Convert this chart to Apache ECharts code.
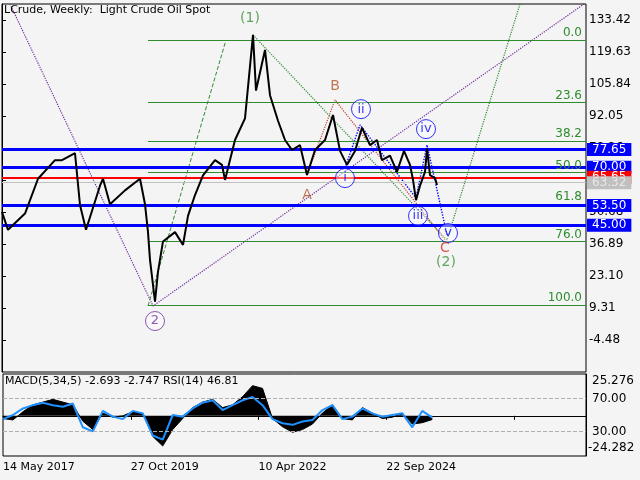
<!DOCTYPE html>
<html><head><meta charset="utf-8">
<script src="https://cdn.jsdelivr.net/npm/echarts@6/dist/echarts.min.js"></script>
<style>html,body{margin:0;padding:0;background:#f4f4f4}#c{width:640px;height:480px}</style>
</head><body><div id="c"></div>
<script>
// weeks since 14 May 2017
const priceWeeks = [0,6,23,36,53,60,73,78,84,98,101,108,123,138,143,146,148,153,156,161,173,181,186,193,201,213,220,223,233,243,251,254,263,268,276,283,290,298,305,313,323,331,338,345,353,360,368,375,380,388,395,402,408,411,414,418,423,425,428,433,435];
const priceValues = [50.7,43,50,65,73,73,76,53.7,43,62,65,54,60,65,54,42,30,12,25,38,42,36.5,49,58,66.5,73,71,64.5,81.7,91,127,103,120.5,101,90,81.7,77.4,79.5,66.6,77.4,81.7,92.5,77,71,77,87,79.5,81.7,73,75,68,77,71,64.5,55.8,62,68,78,66.6,65.3,62.3];
const oscWeeks = [0,10,20,30,40,50,60,70,80,90,100,110,120,130,140,150,160,170,180,190,200,210,220,230,240,250,260,270,280,290,300,310,320,330,340,350,360,370,380,390,400,410,420,430];
const macdValues = [-2,-3,3,8,10,12,10,8,-4,-10,2,-1,0,3,2,-15,-22,-10,-2,6,10,12,6,8,14,22,20,-2,-8,-12,-10,-6,2,8,-2,-3,6,2,-2,-1,2,-6,-5,-2.7];
const rsiValues = [45,50,58,62,65,62,60,64,35,30,55,48,45,55,52,25,20,50,48,58,65,68,56,62,68,72,62,45,40,38,42,44,56,62,45,48,58,52,48,50,52,35,55,46.8];
const levelLines = [{v:77.65,c:'#0000ff',w:3,t:'77.65'},{v:70.00,c:'#0000ff',w:3,t:'70.00'},{v:65.65,c:'#ff0000',w:2,t:'65.65'},{v:63.32,c:'#c0c0c0',w:1,t:'63.32'},{v:53.50,c:'#0000ff',w:3,t:'53.50'},{v:45.00,c:'#0000ff',w:3,t:'45.00'}];
const fibLevels = [{r:'0.0',v:124.8},{r:'23.6',v:97.85},{r:'38.2',v:81.2},{r:'50.0',v:67.7},{r:'61.8',v:54.2},{r:'76.0',v:38.0},{r:'100.0',v:10.6}];
const tickLabels = {0:'14 May 2017',128:'27 Oct 2019',256:'10 Apr 2022',384:'22 Sep 2024'};
const purple1 = [[8,140.3],[151,10.2],[582,140.3]];
const greenDash = [[146,10.2],[224,124.8]];
const greenDot = [[251,127],[445,38.6],[518,140.3]];
const brownDot = [[305,66.6],[333,99],[443,38.6]];
const blueDot = [[343,69.6],[358,88.2],[414,56.7],[425,79.6],[445,40.8]];
const waveText = [[248,134.3,'(1)','#3a8f3a'],[333,105,'B','#b5532a'],[305,58,'A','#b5532a'],[443,35.2,'C','#d03020'],[444,29.1,'(2)','#3a8f3a']];
const waveCircle = [[359,95,'ii','#0000ff'],[343,65.3,'i','#0000ff'],[416,49,'iii','#0000ff'],[424,86.4,'iv','#0000ff'],[446,41.6,'v','#0000ff'],[153,3.7,'2','#7030a0']];

const F = 'DejaVu Sans';
const ch = echarts.init(document.getElementById('c'));
function lineS(data,color,type,w){return {type:'line',xAxisIndex:0,yAxisIndex:0,data:data,symbol:'none',silent:true,clip:true,lineStyle:{color:color,type:type,width:w||1},z:3};}
const series = [
  {type:'line',xAxisIndex:0,yAxisIndex:0,data:priceWeeks.map((w,i)=>[w,priceValues[i]]),symbol:'none',lineStyle:{color:'#000',width:2},z:6,
   markLine:{symbol:'none',silent:true,animation:false,data:
     fibLevels.map(f=>[{coord:[146,f.v],lineStyle:{color:'#2e8b2e',width:1,type:'solid'},label:{show:true,position:'insideEndTop',formatter:f.r,color:'#2e8b2e',fontFamily:F,fontSize:12,distance:[4,1]}},{coord:[584,f.v]}])
     .concat(levelLines.map(l=>({yAxis:l.v,lineStyle:{color:l.c,width:l.w,type:'solid'},label:{show:true,position:'end',formatter:l.t,color:l.c==='#c0c0c0'?'#e8e8e8':'#fff',backgroundColor:l.c,padding:[1,5,0,5],fontFamily:F,fontSize:12,distance:1}})))}},
  lineS(purple1,'#7030a0','dotted',1.2),
  lineS(greenDash,'#2e8b2e','dashed',1),
  lineS(greenDot,'#2e8b2e','dotted',1.2),
  lineS(brownDot,'#c03a2a','dotted',1.2),
  lineS(blueDot,'#0000ff','dotted',1.4),
  {type:'scatter',xAxisIndex:0,yAxisIndex:0,data:waveText.map(d=>({value:[d[0],d[1]],label:{color:d[3]}})),symbolSize:0,
   label:{show:true,position:'inside',formatter:p=>waveText[p.dataIndex][2],fontFamily:F,fontSize:14},z:8},
  {type:'scatter',xAxisIndex:0,yAxisIndex:0,data:waveCircle.map(d=>({value:[d[0],d[1]],itemStyle:{borderColor:d[3]},label:{color:d[3]}})),symbol:'circle',symbolSize:19,
   itemStyle:{color:'rgba(255,255,255,0.5)',borderWidth:1},label:{show:true,position:'inside',formatter:p=>waveCircle[p.dataIndex][2],fontFamily:F,fontSize:13},z:8},
  {type:'line',xAxisIndex:1,yAxisIndex:1,data:oscWeeks.map((w,i)=>[w,macdValues[i]]),symbol:'none',lineStyle:{color:'#000',width:1},areaStyle:{color:'#000',opacity:1,origin:0},z:2},
  {type:'line',xAxisIndex:1,yAxisIndex:2,data:oscWeeks.map((w,i)=>[w,rsiValues[i]]),symbol:'none',lineStyle:{color:'#1e90ff',width:2},z:4,
   markLine:{symbol:'none',silent:true,animation:false,data:[{yAxis:70},{yAxis:30}],lineStyle:{color:'#b0b0b0',type:'dashed',width:1},label:{show:false}}}
];
ch.setOption({
  animation:false,backgroundColor:'#f4f4f4',
  grid:[{left:2,right:54,top:4,bottom:108,show:true,borderColor:'#000',borderWidth:1,backgroundColor:'#f4f4f4'},
        {left:2,right:54,top:374,bottom:24,show:true,borderColor:'#000',borderWidth:1}],
  xAxis:[{type:'value',gridIndex:0,min:0,max:584,show:false},
         {type:'value',gridIndex:1,min:0,max:584,interval:128,axisLine:{lineStyle:{color:'#000'}},splitLine:{show:false},
          axisTick:{show:true,length:4,lineStyle:{color:'#000'}},
          axisLabel:{formatter:v=>tickLabels[v]||'',align:'left',color:'#000',fontFamily:F,fontSize:11,margin:6,showMaxLabel:false}}],
  yAxis:[{type:'value',gridIndex:0,position:'right',min:-18.27,max:140.31,interval:13.79,splitLine:{show:false},
          axisLine:{show:true,lineStyle:{color:'#000'}},axisTick:{show:true,length:4,lineStyle:{color:'#000'}},
          axisLabel:{showMinLabel:false,showMaxLabel:false,formatter:v=>v.toFixed(2),color:'#000',fontFamily:F,fontSize:12,margin:3}},
         {type:'value',gridIndex:1,position:'right',min:-29.3,max:30.5,show:false,splitLine:{show:false}},
         {type:'value',gridIndex:1,position:'right',min:0,max:100,interval:10,splitLine:{show:false},
          axisLine:{show:true,lineStyle:{color:'#000'}},axisTick:{show:false},
          axisLabel:{formatter:v=>(v===70||v===30)?v.toFixed(2):'',color:'#000',fontFamily:F,fontSize:12,margin:6}}],
  graphic:[
    {type:'text',left:4,top:5,style:{text:'LCrude, Weekly:  Light Crude Oil Spot',font:'11px "DejaVu Sans"',fill:'#000'},z:10},
    {type:'text',left:5,top:376,style:{text:'MACD(5,34,5) -2.693 -2.747 RSI(14) 46.81',font:'11px "DejaVu Sans"',fill:'#000'},z:10},
    {type:'text',left:592,top:375,style:{text:'25.276',font:'12px "DejaVu Sans"',fill:'#000'},z:10},
    {type:'text',left:588,top:442,style:{text:'-24.282',font:'12px "DejaVu Sans"',fill:'#000'},z:10}
  ],
  series:series
});
</script></body></html>
